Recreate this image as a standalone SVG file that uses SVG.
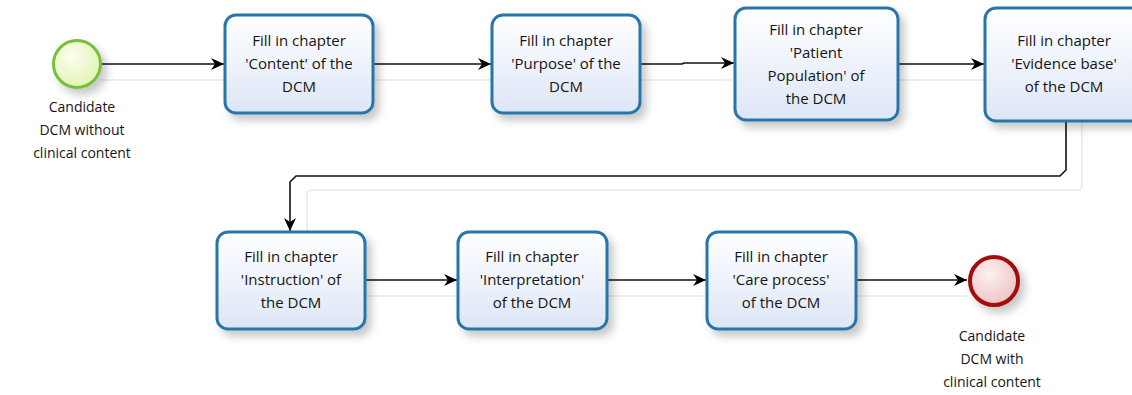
<svg xmlns="http://www.w3.org/2000/svg" width="1132" height="395" viewBox="0 0 1132 395">
  <defs>
    <linearGradient id="taskFill" x1="0" y1="0" x2="0" y2="1">
      <stop offset="0" stop-color="#ffffff"/>
      <stop offset="1" stop-color="#dde6f7"/>
    </linearGradient>
    <radialGradient id="startFill" cx="0.4" cy="0.35" r="0.7">
      <stop offset="0" stop-color="#fbfef0"/>
      <stop offset="1" stop-color="#e2f4b0"/>
    </radialGradient>
    <radialGradient id="endFill" cx="0.4" cy="0.35" r="0.7">
      <stop offset="0" stop-color="#fdf0f0"/>
      <stop offset="1" stop-color="#efc2c2"/>
    </radialGradient>
    <filter id="shadow" x="-20%" y="-20%" width="150%" height="150%">
      <feDropShadow dx="5" dy="6" stdDeviation="4" flood-color="#000" flood-opacity="0.22"/>
    </filter>
    <marker id="arrow" markerWidth="14" markerHeight="14" refX="13" refY="7" orient="auto" markerUnits="userSpaceOnUse">
      <path d="M0,1 L13,7 L0,13 L4,7 Z" fill="#000"/>
    </marker>
  </defs>
  <style>
    .task rect { fill: url(#taskFill); stroke: #2676ac; stroke-width: 3; filter: url(#shadow); }
    .lbl { font-family: "Open Sans", "Liberation Sans", sans-serif; font-size: 15px; fill: #151515; text-anchor: middle; }
    .evt { font-size: 14px; }
    .flow { fill: none; stroke: #111; stroke-width: 1.6; marker-end: url(#arrow); }
    .ghost { fill: none; stroke: #eeeeee; stroke-width: 2; }
  </style>

  <rect width="1132" height="395" fill="#ffffff"/>

  <!-- faint trailing lines behind the sequence flows -->
  <g id="flow-ghosts">
    <path class="ghost" d="M101,80 H225"/>
    <path class="ghost" d="M373,80 H492"/>
    <path class="ghost" d="M640,80 H735"/>
    <path class="ghost" d="M898,80 H985"/>
    <path class="ghost" d="M1082,121 V185 Q1082,190 1077,190 H312 Q307,190 307,195 V232"/>
    <path class="ghost" d="M365,296 H458"/>
    <path class="ghost" d="M607,296 H707"/>
    <path class="ghost" d="M856,296 H968"/>
  </g>

  <g id="connectors">
    <path class="flow" d="M101,64 H224"/>
    <path class="flow" d="M373,64 H491"/>
    <path class="flow" d="M640,64 H682 L684,63 H734"/>
    <path class="flow" d="M898,64 H984"/>
    <path class="flow" d="M1066,121 V170 L1060,176 H296 L290,182 V231"/>
    <path class="flow" d="M365,280 H457"/>
    <path class="flow" d="M607,280 H706"/>
    <path class="flow" d="M856,280 H967"/>
  </g>

  <g id="start-event">
    <circle cx="77" cy="64" r="23.5" fill="url(#startFill)" stroke="#77bf3f" stroke-width="3" filter="url(#shadow)"/>
    <text class="lbl evt" x="82" y="112">Candidate</text>
    <text class="lbl evt" x="82" y="135">DCM without</text>
    <text class="lbl evt" x="82" y="158">clinical content</text>
  </g>

  <g id="task-content" class="task">
    <rect x="225" y="15" width="148" height="98" rx="11"/>
    <text class="lbl" x="299" y="46">Fill in chapter</text>
    <text class="lbl" x="299" y="69">'Content' of the</text>
    <text class="lbl" x="299" y="92">DCM</text>
  </g>

  <g id="task-purpose" class="task">
    <rect x="492" y="15" width="148" height="98" rx="11"/>
    <text class="lbl" x="566" y="46">Fill in chapter</text>
    <text class="lbl" x="566" y="69">'Purpose' of the</text>
    <text class="lbl" x="566" y="92">DCM</text>
  </g>

  <g id="task-population" class="task">
    <rect x="735" y="8" width="163" height="112" rx="11"/>
    <text class="lbl" x="816" y="35">Fill in chapter</text>
    <text class="lbl" x="816" y="58">'Patient</text>
    <text class="lbl" x="816" y="81">Population' of</text>
    <text class="lbl" x="816" y="104">the DCM</text>
  </g>

  <g id="task-evidence" class="task">
    <rect x="985" y="8" width="158" height="113" rx="11"/>
    <text class="lbl" x="1064" y="46">Fill in chapter</text>
    <text class="lbl" x="1064" y="69">'Evidence base'</text>
    <text class="lbl" x="1064" y="92">of the DCM</text>
  </g>

  <g id="task-instruction" class="task">
    <rect x="217" y="232" width="148" height="97" rx="11"/>
    <text class="lbl" x="291" y="262">Fill in chapter</text>
    <text class="lbl" x="291" y="285">'Instruction' of</text>
    <text class="lbl" x="291" y="308">the DCM</text>
  </g>

  <g id="task-interpretation" class="task">
    <rect x="458" y="232" width="149" height="97" rx="11"/>
    <text class="lbl" x="532" y="262">Fill in chapter</text>
    <text class="lbl" x="532" y="285">'Interpretation'</text>
    <text class="lbl" x="532" y="308">of the DCM</text>
  </g>

  <g id="task-care" class="task">
    <rect x="707" y="232" width="149" height="97" rx="11"/>
    <text class="lbl" x="781" y="262">Fill in chapter</text>
    <text class="lbl" x="781" y="285">'Care process'</text>
    <text class="lbl" x="781" y="308">of the DCM</text>
  </g>

  <g id="end-event">
    <circle cx="994" cy="281" r="24" fill="url(#endFill)" stroke="#a40d0d" stroke-width="4" filter="url(#shadow)"/>
    <text class="lbl evt" x="992" y="341">Candidate</text>
    <text class="lbl evt" x="992" y="364">DCM with</text>
    <text class="lbl evt" x="992" y="387">clinical content</text>
  </g>
</svg>
